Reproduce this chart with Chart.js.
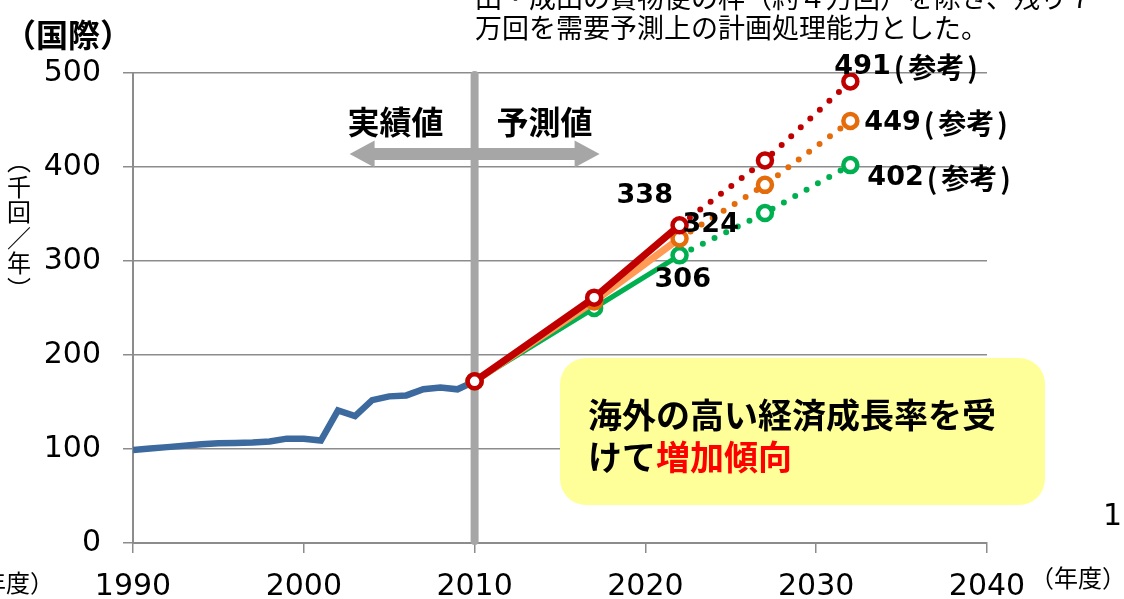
<!DOCTYPE html>
<html>
<head>
<meta charset="utf-8">
<script src="https://cdn.jsdelivr.net/npm/chart.js@4.4.1/dist/chart.umd.min.js"></script>
<style>
  html, body { margin: 0; padding: 0; background: #fff; overflow: hidden; }
</style>
</head>
<body>
<canvas id="chart" width="1124" height="599"></canvas>
<script>
// 実績（千回/年）
const actualYears = [1990, 1991, 1992, 1993, 1994, 1995, 1996, 1997, 1998, 1999, 2000,
  2001, 2002, 2003, 2004, 2005, 2006, 2007, 2008, 2009, 2010];
const actualValues = [99, 100.5, 102, 103.5, 105, 106, 106.5, 107, 108, 111, 111,
  109, 141, 135, 152, 156, 157, 163.5, 165.5, 163.5, 172];

// 予測
const forecastYears = [2010, 2017, 2022];
const referenceYears = [2022, 2027, 2032];
const highForecast = [172, 261, 338];
const highReference = [338, 407, 491];
const midForecast = [172, 257, 324];
const midReference = [324, 381, 449];
const lowForecast = [172, 250, 306];
const lowReference = [306, 351, 402];

const xTicks = [1990, 2000, 2010, 2020, 2030, 2040];
const yTicks = [0, 100, 200, 300, 400, 500];

const GRID = "#8c8c8c";
const JP = "'Noto Sans CJK JP'";
const NUM = "'DejaVu Sans'";

function points(years, values) {
  return years.map((year, i) => ({ x: year, y: values[i] }));
}

function solidSet(years, values, lineColor, markerColor, width) {
  return {
    data: points(years, values),
    borderColor: lineColor,
    borderWidth: width,
    pointRadius: 7,
    pointBorderWidth: 4.5,
    pointBorderColor: markerColor,
    pointBackgroundColor: "#fff",
    tension: 0,
  };
}

function dottedSet(years, values, color) {
  return {
    data: points(years, values),
    borderColor: color,
    borderWidth: 6,
    borderDash: [0, 13],
    borderCapStyle: "round",
    pointRadius: [0, 7, 7],
    pointBorderWidth: 4.5,
    pointBorderColor: color,
    pointBackgroundColor: "#fff",
    tension: 0,
  };
}

function drawText(ctx, str, x, y, font, color, align = "left") {
  ctx.save();
  ctx.font = font;
  ctx.fillStyle = color;
  ctx.textAlign = align;
  ctx.textBaseline = "middle";
  ctx.fillText(str, x, y);
  ctx.restore();
}

// 値ラベル（数値 + 任意で「（参考）」）
function drawValueLabel(ctx, value, x, y, reference) {
  const numFont = `bold 27px ${NUM}`;
  const jpFont = `bold 28px ${JP}`;
  drawText(ctx, String(value), x, y, numFont, "#000");
  if (!reference) return;
  ctx.save();
  ctx.font = numFont;
  let cx = x + ctx.measureText(String(value)).width + 3;
  ctx.font = jpFont;
  drawText(ctx, "(", cx, y, jpFont, "#000");
  cx += ctx.measureText("(").width + 4;
  drawText(ctx, "参考", cx, y, jpFont, "#000");
  cx += ctx.measureText("参考").width + 3;
  drawText(ctx, ")", cx, y, jpFont, "#000");
  ctx.restore();
}

const backdropPlugin = {
  id: "backdrop",
  beforeDatasetsDraw(chart) {
    const { ctx, chartArea, scales } = chart;
    const x2010 = scales.x.getPixelForValue(2010);

    ctx.save();
    ctx.strokeStyle = "#a6a6a6";
    ctx.lineWidth = 8;
    ctx.lineCap = "round";
    ctx.beginPath();
    ctx.moveTo(x2010, chartArea.top + 2);
    ctx.lineTo(x2010, chartArea.bottom - 2);
    ctx.stroke();

    // 両方向矢印
    const ay = 154;
    const left = x2010 - 125;
    const right = x2010 + 125;
    const head = 25;
    const half = 6;
    const headHalf = 13.5;
    ctx.fillStyle = "#a6a6a6";
    ctx.beginPath();
    ctx.moveTo(left, ay);
    ctx.lineTo(left + head, ay - headHalf);
    ctx.lineTo(left + head, ay - half);
    ctx.lineTo(right - head, ay - half);
    ctx.lineTo(right - head, ay - headHalf);
    ctx.lineTo(right, ay);
    ctx.lineTo(right - head, ay + headHalf);
    ctx.lineTo(right - head, ay + half);
    ctx.lineTo(left + head, ay + half);
    ctx.lineTo(left + head, ay + headHalf);
    ctx.closePath();
    ctx.fill();
    ctx.restore();

    drawText(ctx, "実績値", x2010 - 31, 122, `bold 32px ${JP}`, "#000", "right");
    drawText(ctx, "予測値", x2010 + 22, 122, `bold 32px ${JP}`, "#000", "left");
  },
  afterDatasetsDraw(chart) {
    const { ctx, scales } = chart;
    const px = (year, value) => [scales.x.getPixelForValue(year), scales.y.getPixelForValue(value)];

    // 吹き出しボックス
    ctx.save();
    ctx.fillStyle = "#ffff99";
    ctx.beginPath();
    ctx.roundRect(560, 358, 485, 147, 26);
    ctx.fill();
    ctx.restore();
    drawText(ctx, "海外の高い経済成長率を受", 588, 415, `bold 34px ${JP}`, "#000");
    ctx.save();
    ctx.font = `bold 34px ${JP}`;
    const w = ctx.measureText("けて").width;
    ctx.restore();
    drawText(ctx, "けて", 588, 457, `bold 34px ${JP}`, "#000");
    drawText(ctx, "増加傾向", 588 + w, 457, `bold 34px ${JP}`, "#ff0000");

    // 値ラベル
    let [x, y] = px(2022, highForecast[2]);
    drawValueLabel(ctx, highForecast[2], x - 63, y - 29, false);
    [x, y] = px(2022, midForecast[2]);
    drawValueLabel(ctx, midForecast[2], x + 3, y - 13, false);
    [x, y] = px(2022, lowForecast[2]);
    drawValueLabel(ctx, lowForecast[2], x - 25, y + 25, false);
    [x, y] = px(2032, highReference[2]);
    drawValueLabel(ctx, highReference[2], x - 16, y - 14, true);
    [x, y] = px(2032, midReference[2]);
    drawValueLabel(ctx, midReference[2], x + 14, y + 2, true);
    [x, y] = px(2032, lowReference[2]);
    drawValueLabel(ctx, lowReference[2], x + 17, y + 13, true);
  },
  afterDraw(chart) {
    const { ctx } = chart;
    drawText(ctx, "（国際）", 4, 35, `bold 32px ${JP}`, "#000");
    drawText(ctx, "田・成田の貨物便の枠（約４万回）を除き、残り７", 475, -2, `27px ${JP}`, "#000");
    drawText(ctx, "万回を需要予測上の計画処理能力とした。", 475, 28, `27px ${JP}`, "#000");

    const yTitle = ["︵", "千", "回", "／", "年", "︶"];
    yTitle.forEach((ch, i) => {
      drawText(ctx, ch, 19, 161 + i * 25.5, `24px ${JP}`, "#000", "center");
    });

    drawText(ctx, "（年度）", 54, 583, `24px ${JP}`, "#000", "right");
    drawText(ctx, "（年度）", 1030, 578, `24px ${JP}`, "#000", "left");
    drawText(ctx, "1", 1103, 517, `30px ${NUM}`, "#000");
  },
};

new Chart(document.getElementById("chart"), {
  type: "line",
  data: {
    datasets: [
      solidSet(forecastYears, highForecast, "#c00000", "#c00000", 7),
      dottedSet(referenceYears, highReference, "#c00000"),
      solidSet(forecastYears, midForecast, "#ff9b55", "#e46c0a", 7),
      dottedSet(referenceYears, midReference, "#e46c0a"),
      solidSet(forecastYears, lowForecast, "#00b050", "#00b050", 5),
      dottedSet(referenceYears, lowReference, "#00b050"),
      {
        data: points(actualYears, actualValues),
        borderColor: "#3d6a9e",
        borderWidth: 6.5,
        pointRadius: 0,
        tension: 0,
      },
    ],
  },
  options: {
    responsive: false,
    animation: false,
    devicePixelRatio: 1,
    layout: { padding: { top: 73, right: 137, left: 0, bottom: 0 } },
    plugins: {
      legend: { display: false },
      tooltip: { enabled: false },
    },
    scales: {
      x: {
        type: "linear",
        min: 1990,
        max: 2040,
        afterBuildTicks: scale => { scale.ticks = xTicks.map(value => ({ value })); },
        grid: { drawOnChartArea: false, tickLength: 10, color: GRID, lineWidth: 1.5 },
        border: { color: GRID, width: 2 },
        ticks: {
          color: "#000",
          font: { family: "DejaVu Sans", size: 30 },
          padding: 16,
          maxRotation: 0,
          autoSkip: false,
          callback: value => String(value),
        },
        afterFit: scale => { scale.height = 56; },
      },
      y: {
        min: 0,
        max: 500,
        afterBuildTicks: scale => { scale.ticks = yTicks.map(value => ({ value })); },
        grid: { color: GRID, lineWidth: 1.5, tickLength: 10 },
        border: { color: GRID, width: 2 },
        ticks: {
          color: "#000",
          font: { family: "DejaVu Sans", size: 30 },
          padding: 22,
          callback: value => String(value),
        },
        afterFit: scale => { scale.width = 133; },
      },
    },
  },
  plugins: [backdropPlugin],
});
</script>
</body>
</html>
